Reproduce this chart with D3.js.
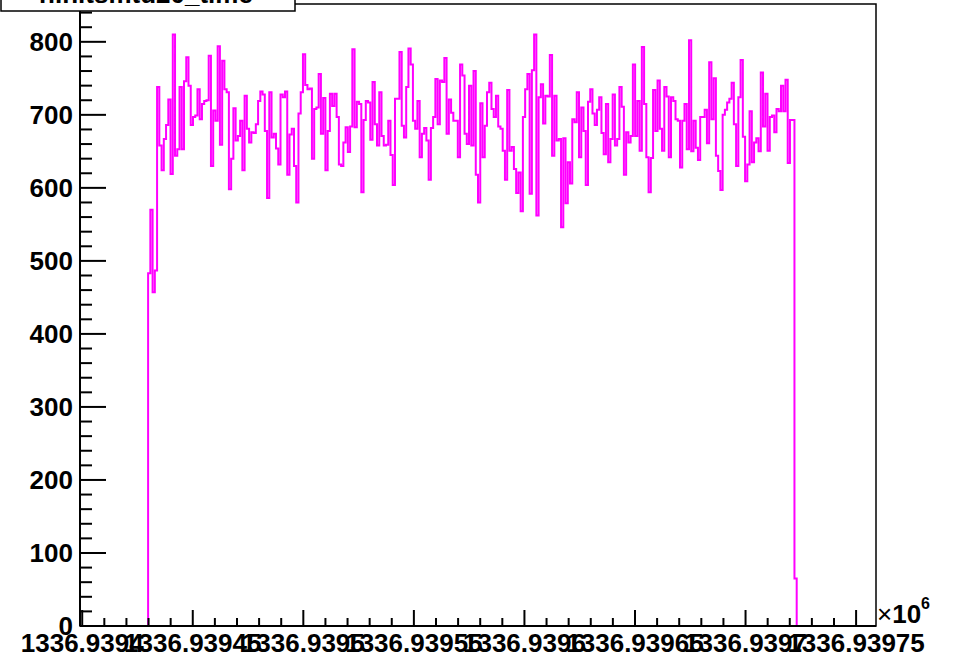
<!DOCTYPE html>
<html>
<head>
<meta charset="utf-8">
<script src="https://cdn.jsdelivr.net/npm/d3@7"></script>
<style>
  html, body { margin: 0; padding: 0; background: #fff; }
  svg { display: block; font-family: "Liberation Sans", Arial, Helvetica, sans-serif; }
</style>
</head>
<body>
<div id="chart"></div>
<script>
// histogram range (seconds since epoch) and binning
const xRange = [1336939399, 1336939759];
const yRange = [0, 851.8];
const histLow = 1336939429.8;
const binWidth = 1.015;

// bin contents
const counts = [
  483,570,457,487,738,658,624,667,686,721,
  619,810,644,653,738,653,746,779,740,686,
  697,699,735,694,715,719,720,781,630,706,
  692,794,659,774,735,731,598,640,709,665,
  671,692,624,726,681,662,676,675,687,719,
  732,728,678,586,731,669,674,654,632,728,
  724,732,618,673,681,630,580,702,731,783,
  741,735,736,640,708,710,756,674,723,624,
  678,729,
  712,729,697,632,630,662,683,649,684,790,
  683,718,715,594,693,719,717,666,745,687,
  658,731,671,658,659,692,645,604,722,722,
  786,685,669,738,791,769,692,681,719,642,
  674,682,665,611,682,697,749,687,747,745,
  778,674,721,703,692,692,642,769,754,674,
  660,740,658,760,618,580,716,642,685,731,
  744,708,697,726,684,681,651,611,734,651,
  656,626,593,621,568,
  697,735,756,592,761,810,562,724,742,688,
  726,725,782,644,726,665,667,546,668,579,
  635,606,694,690,731,642,710,678,604,718,
  735,702,686,707,724,675,646,715,635,667,
  728,658,667,738,711,618,676,662,671,769,
  671,719,651,793,715,642,594,641,734,678,
  747,681,651,738,725,642,724,719,694,692,
  628,692,715,653,802,650,692,655,638,697,
  697,707,661,772,
  694,750,644,623,597,700,707,717,722,744,
  687,630,724,775,670,609,632,705,635,662,
  668,650,758,684,729,651,697,699,676,708,
  705,740,705,748,634,693,693,65
];

const xMajorTicks = [1336939400, 1336939450, 1336939500, 1336939550, 1336939600, 1336939650, 1336939700, 1336939750];
const xTickLabels = ['1336.9394', '1336.93945', '1336.9395', '1336.93955', '1336.9396', '1336.93965', '1336.9397', '1336.93975'];
const yMajorTicks = [0, 100, 200, 300, 400, 500, 600, 700, 800];
const titleText = 'h.hitsmtd20_time';

const width = 955;
const height = 658;
const margin = { top: 4, right: 79, bottom: 32, left: 80 };

const svg = d3.create('svg')
    .attr('width', width)
    .attr('height', height)
    .attr('viewBox', [0, 0, width, height]);

svg.append('rect')
    .attr('width', width)
    .attr('height', height)
    .attr('fill', '#fff');

const x = d3.scaleLinear()
    .domain(xRange)
    .range([margin.left, width - margin.right]);

const y = d3.scaleLinear()
    .domain(yRange)
    .range([height - margin.bottom, margin.top]);

svg.append('clipPath')
    .attr('id', 'plot-clip')
    .append('rect')
    .attr('x', margin.left)
    .attr('y', margin.top)
    .attr('width', width - margin.left - margin.right)
    .attr('height', height - margin.top - margin.bottom);

// Step outline of the histogram, zero outside the filled bins
const pts = [[xRange[0], 0]];
counts.forEach((c, i) => pts.push([histLow + i * binWidth, c]));
pts.push([histLow + counts.length * binWidth, 0]);
pts.push([xRange[1], 0]);

const line = d3.line()
    .x(d => x(d[0]))
    .y(d => y(d[1]))
    .curve(d3.curveStepAfter);

svg.append('path')
    .attr('clip-path', 'url(#plot-clip)')
    .attr('fill', 'none')
    .attr('stroke', '#ff00ff')
    .attr('stroke-width', 2)
    .attr('d', line(pts));

// Frame
svg.append('rect')
    .attr('x', x(xRange[0]))
    .attr('y', y(yRange[1]))
    .attr('width', x(xRange[1]) - x(xRange[0]))
    .attr('height', y(yRange[0]) - y(yRange[1]))
    .attr('fill', 'none')
    .attr('stroke', '#000')
    .attr('stroke-width', 1.5);

// Y axis (ticks point inward, ROOT style)
const yAxis = svg.append('g');
yAxis.append('line')
    .attr('x1', x(xRange[0])).attr('x2', x(xRange[0]))
    .attr('y1', y(yRange[0])).attr('y2', y(yRange[1]))
    .attr('stroke', '#000').attr('stroke-width', 2);

d3.range(0, 860, 20).filter(v => v <= yRange[1]).forEach(v => {
    const major = v % 100 === 0;
    yAxis.append('line')
        .attr('x1', x(xRange[0]))
        .attr('x2', x(xRange[0]) + (major ? 26 : 12))
        .attr('y1', y(v)).attr('y2', y(v))
        .attr('stroke', '#000').attr('stroke-width', 2);
});

yAxis.selectAll('text')
    .data(yMajorTicks)
    .join('text')
    .attr('x', 73)
    .attr('y', d => y(d) + 9.3)
    .attr('text-anchor', 'end')
    .style('font-size', '26px')
    .style('font-weight', 'bold')
    .text(d => d);

// X axis
const xAxis = svg.append('g');
xAxis.append('line')
    .attr('x1', x(xRange[0])).attr('x2', x(xRange[1]))
    .attr('y1', y(0)).attr('y2', y(0))
    .attr('stroke', '#000').attr('stroke-width', 2);

d3.range(xMajorTicks[0], xRange[1] + 0.5, 10).forEach(t => {
    const major = (t - xMajorTicks[0]) % 50 === 0;
    xAxis.append('line')
        .attr('x1', x(t)).attr('x2', x(t))
        .attr('y1', y(0))
        .attr('y2', y(0) - (major ? 16 : 8))
        .attr('stroke', '#000').attr('stroke-width', 2);
});

xAxis.selectAll('text.xlab')
    .data(xMajorTicks)
    .join('text')
    .attr('class', 'xlab')
    .attr('x', d => x(d))
    .attr('y', 652)
    .attr('text-anchor', 'middle')
    .style('font-size', '26px')
    .style('font-weight', 'bold')
    .text((d, i) => xTickLabels[i]);

// x10^6 exponent
const expo = svg.append('text')
    .attr('x', 877)
    .attr('y', 623)
    .style('font-size', '26px');
expo.append('tspan').text('\u00d7');
expo.append('tspan').style('font-weight', 'bold').text('10');
expo.append('tspan')
    .attr('dy', -14)
    .style('font-size', '16px')
    .style('font-weight', 'bold')
    .text('6');

// Title pave, pushed off the top edge
svg.append('rect')
    .attr('x', 1)
    .attr('y', -30)
    .attr('width', 294)
    .attr('height', 41)
    .attr('fill', '#fff')
    .attr('stroke', '#000')
    .attr('stroke-width', 1.5);

svg.append('text')
    .attr('x', 146)
    .attr('y', 3)
    .attr('text-anchor', 'middle')
    .style('font-size', '26px')
    .style('font-weight', 'bold')
    .text(titleText);

document.getElementById('chart').appendChild(svg.node());
</script>
</body>
</html>
